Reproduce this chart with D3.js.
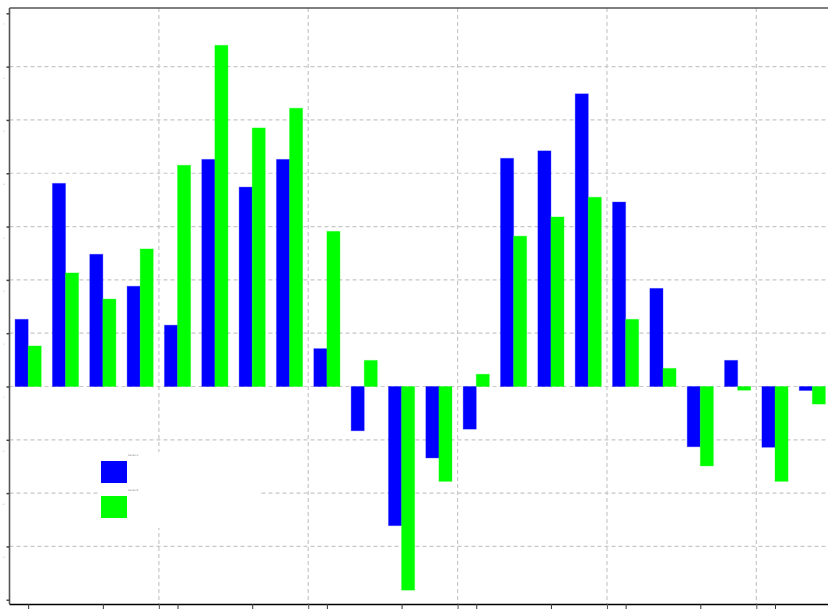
<!DOCTYPE html>
<html>
<head>
<meta charset="utf-8">
<script src="https://cdn.jsdelivr.net/npm/d3@7"></script>
<style>
  html, body { margin: 0; padding: 0; background: #fff; }
  svg { display: block; }
</style>
</head>
<body>
<svg id="chart" width="828" height="610"></svg>
<script>
// ---- data ----
const categories = ["Q1 2015","Q2 2015","Q3 2015","Q4 2015","Q1 2016","Q2 2016","Q3 2016","Q4 2016",
  "Q1 2017","Q2 2017","Q3 2017","Q4 2017","Q1 2018","Q2 2018","Q3 2018","Q4 2018",
  "Q1 2019","Q2 2019","Q3 2019","Q4 2019","Q1 2020","Q2 2020"];
const seriesA = [1.26, 3.81, 2.48, 1.88, 1.15, 4.26, 3.74, 4.26, 0.71, -0.83, -2.61, -1.34,
  -0.80, 4.28, 4.42, 5.49, 3.46, 1.84, -1.13, 0.49, -1.14, -0.075];
const seriesB = [0.76, 2.13, 1.64, 2.58, 4.15, 6.40, 4.85, 5.22, 2.91, 0.49, -3.82, -1.78,
  0.23, 2.82, 3.18, 3.55, 1.26, 0.34, -1.49, -0.07, -1.78, -0.33];
const seriesNames = ["Series A", "Series B"];
const seriesColors = ["#0000ff", "#00ff00"];
const yTicks = [-4, -3, -2, -1, 0, 1, 2, 3, 4, 5, 6, 7];
const yLabelTicks = [-3, -2, -1, 0, 1, 2, 3, 4, 5, 6, 7];
const yGridTicks = [-3, -2, -1, 0, 1, 2, 3, 4, 5, 6];
const xMinorTicks = [0, 2, 4, 6, 8, 10, 12, 14, 16, 18, 20];
const xMajorTicks = [3.5, 7.5, 11.5, 15.5, 19.5];

(function () {
  const svg = d3.select("#chart");
  const pL = 9.5, pR = 831, pT = 8, pB = 604;

  const x = d3.scaleLinear().domain([-0.5, categories.length - 0.5]).range([pL, pR]);
  const y = d3.scaleLinear().domain([-4.08, 7.1]).range([pB, pT]);
  const groupW = x(1) - x(0);
  const barW = groupW * 0.35;

  // grid
  const grid = svg.append("g").attr("stroke", "#c8c8c8").attr("stroke-width", 1.2)
    .attr("stroke-dasharray", "4,3");
  grid.selectAll("line.h").data(yGridTicks).join("line").attr("class", "h")
    .attr("x1", pL).attr("x2", pR)
    .attr("y1", d => y(d)).attr("y2", d => y(d));
  grid.selectAll("line.v").data(xMajorTicks).join("line").attr("class", "v")
    .attr("x1", d => x(d)).attr("x2", d => x(d))
    .attr("y1", pT).attr("y2", pB);

  // bars
  const bars = svg.append("g");
  [seriesA, seriesB].forEach((vals, s) => {
    bars.selectAll("rect.s" + s).data(vals).join("rect")
      .attr("class", "s" + s)
      .attr("x", (d, i) => x(i) - barW + s * barW)
      .attr("width", barW)
      .attr("y", d => y(Math.max(0, d)))
      .attr("height", d => Math.abs(y(d) - y(0)))
      .attr("fill", seriesColors[s])
      .attr("stroke", seriesColors[s])
      .attr("stroke-opacity", 0.3)
      .attr("stroke-width", 1);
  });

  // frame
  svg.append("line").attr("x1", pL).attr("x2", 828).attr("y1", pT).attr("y2", pT)
    .attr("stroke", "#555").attr("stroke-width", 1.6);
  svg.append("line").attr("x1", pL).attr("x2", pL).attr("y1", pT).attr("y2", pB)
    .attr("stroke", "#555").attr("stroke-width", 1.6);

  // y axis ticks
  const yAxis = d3.axisLeft(y).tickValues(yTicks).tickSize(3)
    .tickFormat(d => yLabelTicks.includes(d) ? d3.format("d")(d) : "");
  const gy = svg.append("g").attr("transform", `translate(${pL},0)`).call(yAxis);
  gy.select(".domain").remove();
  gy.selectAll(".tick line").attr("stroke", "#444").attr("stroke-width", 1.5);
  gy.selectAll(".tick text").attr("font-size", 2).attr("fill", "#999")
    .attr("x", -5).attr("dy", 11.5).attr("font-family", "DejaVu Sans");

  // x axis (tick labels fall outside the picture in the reference)
  const xAxisMinor = d3.axisBottom(x).tickValues(xMinorTicks).tickSize(5).tickFormat("");
  const gx = svg.append("g").attr("transform", `translate(0,${pB})`).call(xAxisMinor);
  gx.select(".domain").attr("d", `M${pL},0.5H828`).attr("stroke", "#000").attr("stroke-width", 1.6);
  gx.selectAll(".tick line").attr("stroke", "#333");
  const xAxisMajor = d3.axisBottom(x).tickValues(xMajorTicks).tickSize(5).tickFormat("");
  const gx2 = svg.append("g").attr("transform", `translate(0,${pB})`).call(xAxisMajor);
  gx2.select(".domain").remove();
  gx2.selectAll(".tick line").attr("stroke", "#555");

  // legend
  const lg = svg.append("g").attr("transform", "translate(99,452)");
  lg.append("rect").attr("width", 160).attr("height", 76).attr("fill", "#fff");
  seriesNames.forEach((name, s) => {
    lg.append("rect").attr("x", 2).attr("y", 9 + s * 35).attr("width", 26).attr("height", 22)
      .attr("fill", seriesColors[s]);
    lg.append("text").attr("x", 29).attr("y", 4 + s * 35).text(name)
      .attr("font-size", 2.5).attr("fill", "#888").attr("font-family", "DejaVu Sans");
  });
})();
</script>
</body>
</html>
